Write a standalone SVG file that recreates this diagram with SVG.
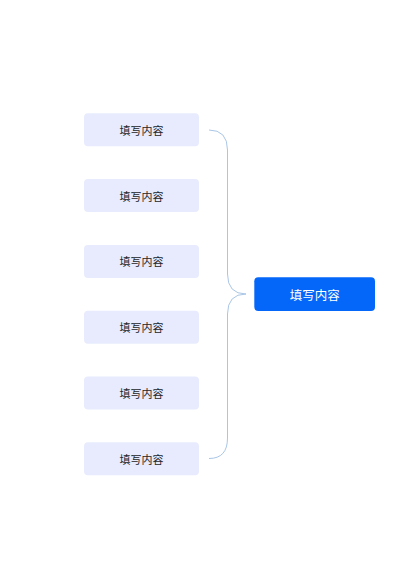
<svg xmlns="http://www.w3.org/2000/svg" width="400" height="566" viewBox="0 0 400 566">
<style>
.leaf rect{fill:#E8EBFD;}
.leaf text{font-family:"Noto Sans CJK SC","Noto Sans",sans-serif;font-size:11px;fill:#262626;text-anchor:middle;dominant-baseline:central;}
.root rect{fill:#0567FA;}
.root text{font-family:"Noto Sans CJK SC","Noto Sans",sans-serif;font-size:12.5px;fill:#FFFFFF;text-anchor:middle;dominant-baseline:central;}
.conn path{fill:none;stroke:#A9C6E6;stroke-width:1;}
</style>
<rect width="400" height="566" fill="#FFFFFF"/>
<g class="conn" id="connectors">
<path d="M209,130 Q227.5,130 227.5,150 L227.5,274 Q227.5,294 246,294"/>
<path d="M246,294 Q227.5,294 227.5,314 L227.5,438 Q227.5,458.5 209,458.5"/>
</g>
<g class="leaf" id="n1"><rect x="84" y="113.3" width="115" height="33" rx="4"/><text x="141.5" y="129.8">填写内容</text></g>
<g class="leaf" id="n2"><rect x="84" y="179.1" width="115" height="33" rx="4"/><text x="141.5" y="195.6">填写内容</text></g>
<g class="leaf" id="n3"><rect x="84" y="244.9" width="115" height="33" rx="4"/><text x="141.5" y="261.4">填写内容</text></g>
<g class="leaf" id="n4"><rect x="84" y="310.7" width="115" height="33" rx="4"/><text x="141.5" y="327.2">填写内容</text></g>
<g class="leaf" id="n5"><rect x="84" y="376.5" width="115" height="33" rx="4"/><text x="141.5" y="393">填写内容</text></g>
<g class="leaf" id="n6"><rect x="84" y="442.3" width="115" height="33" rx="4"/><text x="141.5" y="458.8">填写内容</text></g>
<g class="root" id="root"><rect x="254.3" y="277.3" width="120.7" height="33.7" rx="4"/><text x="314.7" y="294.2">填写内容</text></g>
</svg>
